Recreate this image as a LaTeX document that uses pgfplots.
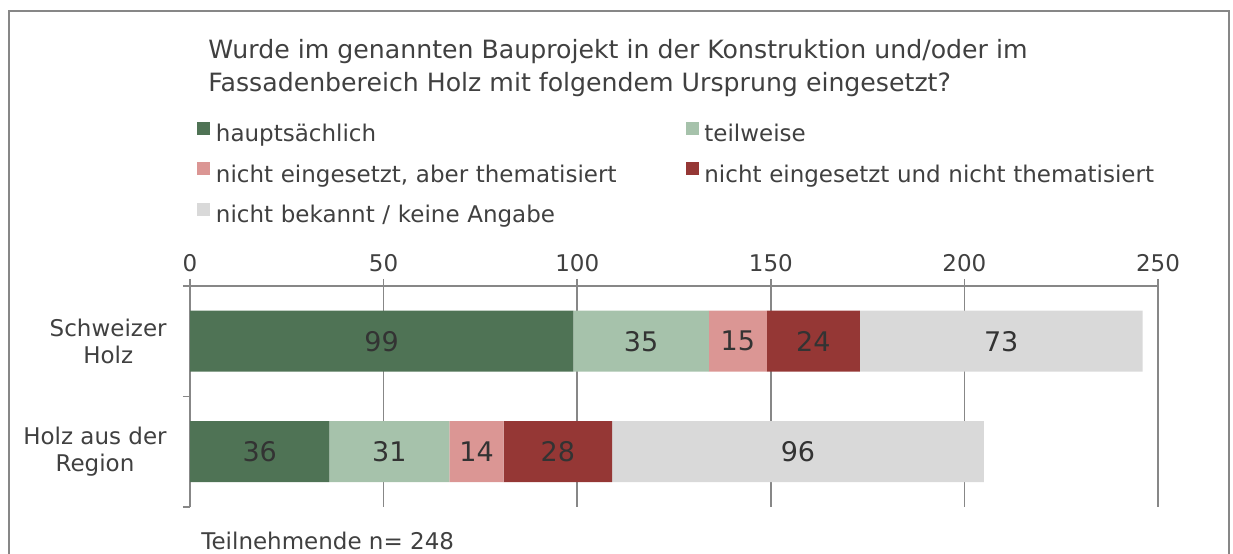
\documentclass[border=0pt]{standalone}
\usepackage{fontspec}
\setmainfont{DejaVu Sans}
\usepackage{pgfplots}
\pgfplotsset{compat=1.18}
\definecolor{dg}{HTML}{4F7355}
\definecolor{lg}{HTML}{A6C2AB}
\definecolor{pk}{HTML}{DB9694}
\definecolor{dr}{HTML}{953735}
\definecolor{gy}{HTML}{D9D9D9}
\definecolor{txt}{HTML}{404040}
\definecolor{lab}{HTML}{333333}
\definecolor{ax}{HTML}{878787}
\newcommand{\tf}{\fontsize{11.5bp}{13.5bp}\selectfont}
\newcommand{\ttf}{\fontsize{12.6bp}{15bp}\selectfont}
\begin{document}
\begin{tikzpicture}[x=0.5bp,y=0.5bp]
\useasboundingbox (0,0) rectangle (1233,554);
\coordinate (O) at (190,47);
\draw[ax, line width=1bp] (9,0) -- (9,543) -- (1229,543) -- (1229,0);
\node[anchor=base west, inner sep=0pt, font=\ttf, text=txt] at (208,495) {Wurde im genannten Bauprojekt in der Konstruktion und/oder im};
\node[anchor=base west, inner sep=0pt, font=\ttf, text=txt] at (208,462) {Fassadenbereich Holz mit folgendem Ursprung eingesetzt?};
\node[anchor=base west, inner sep=0pt, font=\tf, text=txt] at (201,4.7) {Teilnehmende n= 248};
\pgfplotsset{base/.style={at={(O)}, anchor=south west, scale only axis,
  width=484bp, height=110.5bp, xmin=0, xmax=250, ymin=0, ymax=2}}
\begin{axis}[base, xbar stacked, bar width=0.552,
  axis x line*=top, axis y line*=left,
  xtick={0,50,100,150,200,250},
  xmajorgrids, major grid style={ax, line width=0.75bp},
  axis line style={ax, line width=0.75bp},
  tick style={ax, line width=0.75bp},
  tick align=outside, major tick length=3.5bp,
  /pgf/number format/assume math mode=true,
  xticklabel style={font=\tf, text=txt},
  ytick={0,1,2}, yticklabels={},
  extra y ticks={0.5,1.5},
  extra y tick labels={Holz aus der\\Region, Schweizer\\Holz},
  extra y tick style={major tick length=0pt,
    yticklabel style={align=center, font=\fontsize{11.5bp}{13.5bp}\selectfont, text=txt, inner sep=0pt, xshift=-11.5bp}},
  legend columns=2,
  legend cell align=left,
  legend style={at={(0.0075,1.7436)}, anchor=north west, draw=none, fill=none,
    inner sep=0pt, outer sep=0pt, column sep=2.85bp, row sep=7.25bp,
    nodes={inner sep=0pt, text width=232bp, text height=8.5bp, text depth=3bp, font=\tf, text=txt}},
  legend image code/.code={\fill[#1] (0bp,0.8bp) rectangle (6.5bp,7.3bp);},
]
\addplot[fill=dg, draw=none] coordinates {(99,1.5) (36,0.5)};
\addlegendentry{hauptsächlich}
\addplot[fill=lg, draw=none] coordinates {(35,1.5) (31,0.5)};
\addlegendentry{teilweise}
\addplot[fill=pk, draw=none] coordinates {(15,1.5) (14,0.5)};
\addlegendentry{nicht eingesetzt, aber thematisiert}
\addplot[fill=dr, draw=none] coordinates {(24,1.5) (28,0.5)};
\addlegendentry{nicht eingesetzt und nicht thematisiert}
\addplot[fill=gy, draw=none] coordinates {(73,1.5) (96,0.5)};
\addlegendentry{nicht bekannt / keine Angabe}
\end{axis}
\begin{axis}[base, hide axis]
\addplot[draw=none, mark=none, nodes near coords, point meta=explicit symbolic,
  every node near coord/.append style={anchor=center, inner sep=0pt, font=\fontsize{13.5bp}{15bp}\selectfont, text=lab}]
  table[meta=l, row sep=\\] {
  x y l\\
  49.5 1.5 99\\
  116.5 1.5 35\\
  141.5 1.5 15\\
  161 1.5 24\\
  209.5 1.5 73\\
  18 0.5 36\\
  51.5 0.5 31\\
  74 0.5 14\\
  95 0.5 28\\
  157 0.5 96\\
  };
\end{axis}
\end{tikzpicture}
\end{document}
